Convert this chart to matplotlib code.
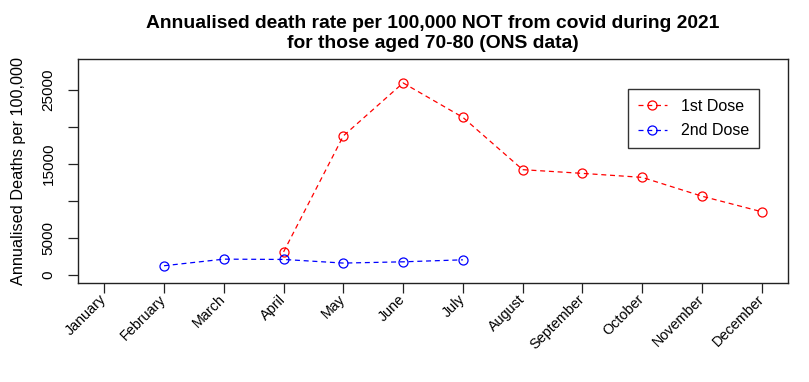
import matplotlib.pyplot as plt
import matplotlib.transforms as mtransforms
import numpy as np

plt.rcParams['font.family'] = ['Liberation Sans', 'DejaVu Sans']

months = ["January", "February", "March", "April", "May", "June", "July",
          "August", "September", "October", "November", "December"]

# 1st dose: April..December
dose1_months = [4, 5, 6, 7, 8, 9, 10, 11, 12]
dose1_rate = [3085, 18740, 25890, 21240, 14180, 13680, 13140, 10600, 8500]

# 2nd dose: February..July
dose2_months = [2, 3, 4, 5, 6, 7]
dose2_rate = [1210, 2100, 2060, 1570, 1740, 2010]

y_ticks = [0, 5000, 10000, 15000, 20000, 25000]
y_labels = ["0", "5000", "", "15000", "", "25000"]


def main():
    fig = plt.figure(figsize=(8.09, 3.82), dpi=100)
    ax = fig.add_axes([78 / 809, 1 - 283 / 382, 710 / 809, 224 / 382])

    ax.plot(dose1_months, dose1_rate, color="red", linestyle=(0, (4, 3)),
            linewidth=0.9, marker="o", markersize=6.5, markerfacecolor="none",
            markeredgewidth=0.9, label="1st Dose")
    ax.plot(dose2_months, dose2_rate, color="blue", linestyle=(0, (4, 3)),
            linewidth=0.9, marker="o", markersize=6.5, markerfacecolor="none",
            markeredgewidth=0.9, label="2nd Dose")

    ax.set_xlim(0.56, 12.44)
    ax.set_ylim(-1120, 29120)

    ax.set_xticks(np.arange(1, 13))
    ax.set_xticklabels(months, rotation=45, ha="right", va="center",
                       rotation_mode="anchor", fontsize=10.4)
    shift = mtransforms.ScaledTranslation(7 / 100, 0, fig.dpi_scale_trans)
    for lab in ax.get_xticklabels():
        lab.set_transform(lab.get_transform() + shift)

    ax.set_yticks(y_ticks)
    ax.set_yticklabels(y_labels, rotation=90, va="center", fontsize=11)

    ax.tick_params(axis="both", direction="out", length=7.2, width=0.9,
                   color="#222222")
    ax.tick_params(axis="y", pad=9)
    ax.tick_params(axis="x", pad=3)

    for s in ax.spines.values():
        s.set_color("#222222")
        s.set_linewidth(1.0)

    ax.set_ylabel("Annualised Deaths per 100,000", fontsize=11.7, labelpad=11)

    ax.set_title("Annualised death rate per 100,000 NOT from covid during 2021\n"
                 "for those aged 70-80 (ONS data)",
                 fontsize=13.9, fontweight="bold", pad=8, linespacing=1.25)

    leg = ax.legend(loc="upper right", bbox_to_anchor=(0.959, 0.866),
                    fontsize=11.5, frameon=True, fancybox=False,
                    borderaxespad=0, handlelength=1.8, borderpad=0.6,
                    labelspacing=0.6, handletextpad=0.9)
    leg.get_frame().set_edgecolor("black")
    leg.get_frame().set_linewidth(1.0)

    fig.savefig("out.png", dpi=100)


if __name__ == "__main__":
    main()
